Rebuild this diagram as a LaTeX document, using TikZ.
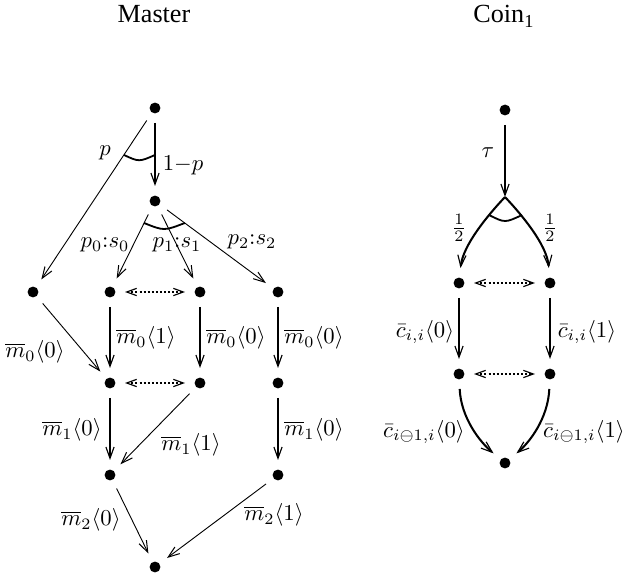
\documentclass[tikz,border=0pt]{standalone}
\usepackage{fontspec}
\setmainfont{Liberation Serif}
\usetikzlibrary{arrows.meta,calc}
\begin{document}
\begin{tikzpicture}[x=0.44pt,y=-0.44pt,
  dot/.style={circle,fill,inner sep=0pt,minimum size=4.8pt,outer sep=4.2pt},
  thinedge/.style={-{Straight Barb[length=5pt,width=3.6pt,line width=0.45pt]},line width=0.4pt},
  thickedge/.style={-{Straight Barb[length=5pt,width=3.6pt,line width=0.5pt]},line width=0.65pt},
  curveedge/.style={-{Straight Barb[length=5pt,width=3.6pt,line width=0.5pt]},line width=0.9pt},
  dd/.style={{Straight Barb[length=4.4pt,width=3.2pt,line width=0.5pt]}-{Straight Barb[length=4.4pt,width=3.2pt,line width=0.5pt]},dash pattern=on 0.9pt off 0.9pt,line width=1pt},
  probarc/.style={line width=0.8pt},
  lab/.style={inner sep=0pt},
  title/.style={anchor=base,inner sep=0pt,font=\fontsize{11.5}{13}\selectfont}]
\useasboundingbox (0,0) rectangle (623,578);
% titles
\node[title] (tm) at (154,23) {Master};
\node[title] (tc) at (504,23) {Coin\textsubscript{1}};
% Master nodes
\node[dot] (m0) at (155,108) {};
\node[dot] (m1) at (155,201) {};
\node[dot] (l)  at (33,292) {};
\node[dot] (b1) at (110,292) {};
\node[dot] (b2) at (200,292) {};
\node[dot] (b3) at (278,292) {};
\node[dot] (c1) at (110,383) {};
\node[dot] (c2) at (200,383) {};
\node[dot] (c3) at (278,383) {};
\node[dot] (d1) at (110,475) {};
\node[dot] (d3) at (278,475) {};
\node[dot] (e)  at (155,567) {};
% Master edges
\draw[thinedge] (m0) -- (l);
\draw[thickedge] (m0) -- (m1);
\draw[thinedge] (m1) -- (b1);
\draw[thinedge] (m1) -- (b2);
\draw[thinedge] (m1) -- (b3);
\draw[dd] (b1) -- (b2);
\draw[thinedge] (l) -- (c1);
\draw[thickedge] (b1) -- (c1);
\draw[thickedge] (b2) -- (c2);
\draw[thickedge] (b3) -- (c3);
\draw[dd] (c1) -- (c2);
\draw[thickedge] (c1) -- (d1);
\draw[thinedge] (c2) -- (d1);
\draw[thickedge] (c3) -- (d3);
\draw[thinedge] (d1) -- (e);
\draw[thinedge] (d3) -- (e);
% probability arcs
\coordinate (pa1) at ($(m0.center)!0.255!(l.center)$);
\coordinate (pa2) at ($(m0.center)!0.505!(m1.center)$);
\draw[probarc] (pa1) .. controls (139,162) .. (pa2);
\coordinate (pb1) at ($(m1.center)!0.242!(b1.center)$);
\coordinate (pb2) at ($(m1.center)!0.242!(b3.center)$);
\draw[probarc] (pb1) .. controls (164,231) .. (pb2);
% Master labels
\node[lab] at (105,153) {$p$};
\node[lab] at (183,165) {$1{-}p$};
\node[lab] at (105,245) {$p_0{:}s_0$};
\node[lab] at (177,245) {$p_1{:}s_1$};
\node[lab] at (252,242) {$p_2{:}s_2$};
\node[lab] at (35,352) {$\overline{m}_0\langle 0\rangle$};
\node[lab] at (146,338) {$\overline{m}_0\langle 1\rangle$};
\node[lab] at (236,338) {$\overline{m}_0\langle 0\rangle$};
\node[lab] at (314,338) {$\overline{m}_0\langle 0\rangle$};
\node[lab] at (72,430) {$\overline{m}_1\langle 0\rangle$};
\node[lab] at (191,445) {$\overline{m}_1\langle 1\rangle$};
\node[lab] at (314,430) {$\overline{m}_1\langle 0\rangle$};
\node[lab] at (91,520) {$\overline{m}_2\langle 0\rangle$};
\node[lab] at (274,515) {$\overline{m}_2\langle 1\rangle$};
% Coin nodes
\node[dot] (k0) at (505,110) {};
\coordinate (k1) at (505,197);
\node[dot] (k2) at (459,283) {};
\node[dot] (k3) at (550,283) {};
\node[dot] (k4) at (459,374) {};
\node[dot] (k5) at (550,374) {};
\node[dot] (k6) at (505,463) {};
% Coin edges
\draw[thickedge] (k0) -- (k1);
\draw[curveedge] (k1) .. controls (488,215) and (463,245) .. (k2);
\draw[curveedge] (k1) .. controls (522,215) and (547,245) .. (k3);
\draw[dd] (k2) -- (k3);
\draw[thickedge] (k2) -- (k4);
\draw[thickedge] (k3) -- (k5);
\draw[dd] (k4) -- (k5);
\draw[curveedge] (k4) .. controls (461,418) and (480,442) .. (k6);
\draw[curveedge] (k5) .. controls (548,418) and (530,442) .. (k6);
\draw[probarc] (489,215) .. controls (505,223) .. (522,215);
% Coin labels
\node[lab] at (488,153) {$\tau$};
\node[lab] at (459,228) {$\frac{1}{2}$};
\node[lab] at (550,228) {$\frac{1}{2}$};
\node[lab] at (425,332) {$\bar{c}_{i,i}\langle 0\rangle$};
\node[lab] at (587,332) {$\bar{c}_{i,i}\langle 1\rangle$};
\node[lab] at (424,432) {$\bar{c}_{i\ominus 1,i}\langle 0\rangle$};
\node[lab] at (584,432) {$\bar{c}_{i\ominus 1,i}\langle 1\rangle$};
\end{tikzpicture}
\end{document}
